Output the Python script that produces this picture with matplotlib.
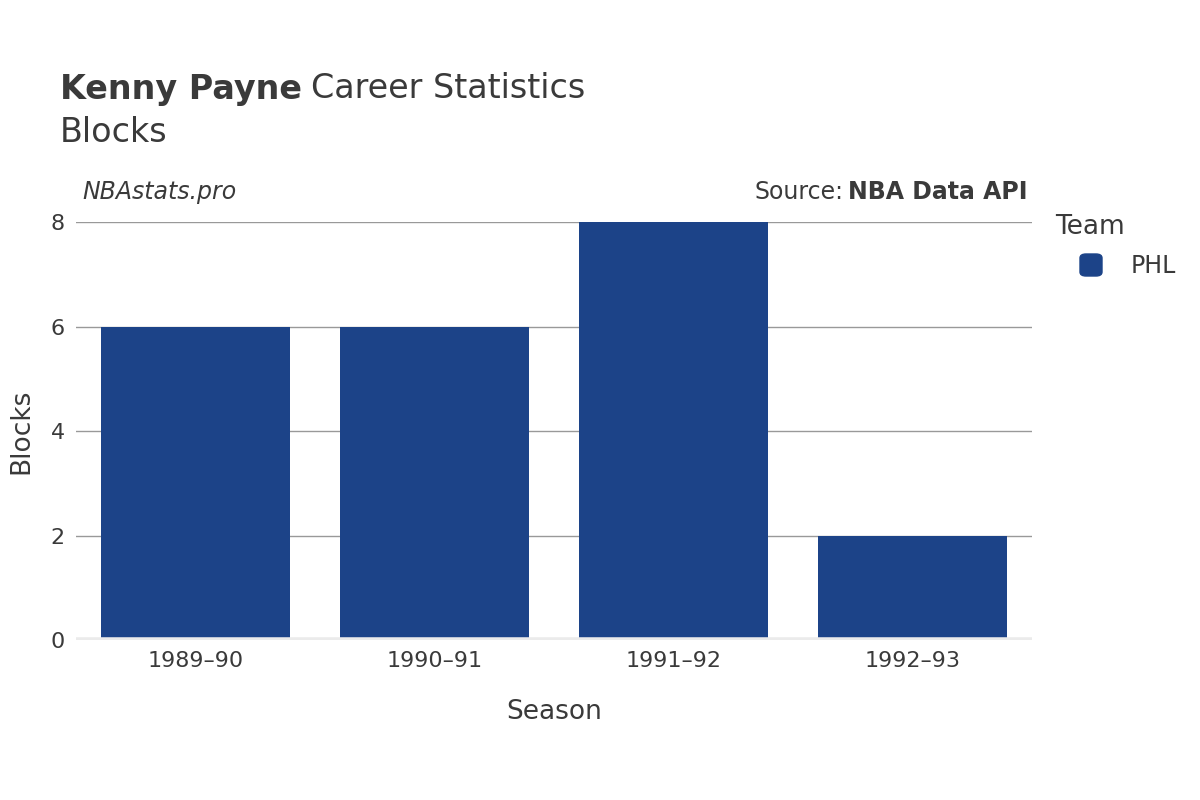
import matplotlib
matplotlib.use("Agg")
import matplotlib.pyplot as plt
from matplotlib.patches import FancyBboxPatch

seasons = ["1989–90", "1990–91", "1991–92", "1992–93"]
blocks = [6, 6, 8, 2]
team = "PHL"
color = "#1c4388"
tc = "#3a3a3a"

fig = plt.figure(figsize=(12, 8), dpi=100)
ax = fig.add_axes([76/1200, 0.2, 956/1200, 418/800])
x = list(range(len(seasons)))
ax.bar(x, blocks, width=0.79, color=color, zorder=3)
ax.set_xlim(-0.5, 3.5)
ax.set_ylim(0, 8)
ax.set_yticks([0, 2, 4, 6, 8])
ax.set_xticks(x)
ax.set_xticklabels(seasons)
ax.grid(axis="y", color="#999999", linewidth=1, zorder=0)
ax.axhline(0, color="#ebebeb", linewidth=4, zorder=4)
for s in ax.spines.values():
    s.set_visible(False)
ax.tick_params(length=0, labelsize=16, labelcolor=tc, pad=8)
ax.set_xlabel("Season", fontsize=19, color=tc, labelpad=20)
ax.set_ylabel("Blocks", fontsize=19, color=tc, labelpad=12)

fig.text(60/1200, 1-89/800, "Kenny Payne", fontsize=24, fontweight="bold", color=tc, va="center")
fig.text(311/1200, 1-89/800, "Career Statistics", fontsize=24, color=tc, va="center")
fig.text(60/1200, 1-133/800, "Blocks", fontsize=24, color=tc, va="center")
fig.text(82/1200, 1-192/800, "NBAstats.pro", fontsize=17, style="italic", color=tc, va="center")
fig.text(1028/1200, 1-192/800, "NBA Data API", fontsize=17, fontweight="bold", color=tc, va="center", ha="right")
fig.text(844/1200, 1-192/800, "Source:", fontsize=17, color=tc, va="center", ha="right")
fig.text(1055/1200, 1-227/800, "Team", fontsize=19, color=tc, va="center")
fig.patches.append(FancyBboxPatch((1080/1200, 1-276/800), 22/1200, 22/800,
                                  boxstyle="round,pad=0,rounding_size=0.005",
                                  transform=fig.transFigure, color=color, figure=fig))
fig.text(1131/1200, 1-266/800, team, fontsize=17, color=tc, va="center")
fig.savefig("out.png", dpi=100)
